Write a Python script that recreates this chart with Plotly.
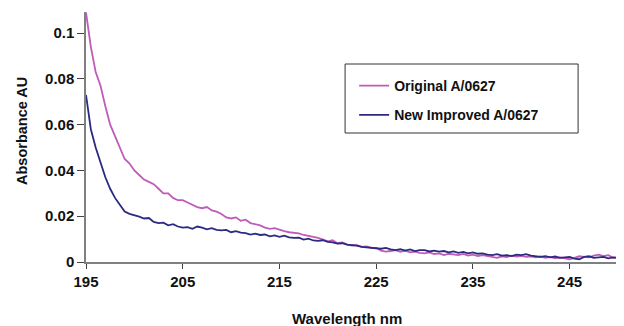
import plotly.graph_objects as go

wavelength = [round(195 + 0.5 * i, 1) for i in range(111)]

original = [
    0.109, 0.094, 0.083, 0.077, 0.068, 0.060, 0.055, 0.050, 0.045, 0.043,
    0.040, 0.038, 0.036, 0.035, 0.034, 0.032, 0.030, 0.030, 0.028, 0.027,
    0.027, 0.026, 0.025, 0.024, 0.0235, 0.024, 0.0225, 0.022, 0.021, 0.0195,
    0.019, 0.0195, 0.018, 0.0185, 0.017, 0.0165, 0.016, 0.015, 0.0145, 0.0148,
    0.014, 0.0135, 0.013, 0.0128, 0.0125, 0.0118, 0.0115, 0.011, 0.0105, 0.0098,
    0.009, 0.0095, 0.0082, 0.0085, 0.0076, 0.0072, 0.0074, 0.0066, 0.0068, 0.0062,
    0.0062, 0.005, 0.0045, 0.0048, 0.0052, 0.0045, 0.005, 0.0042, 0.0045, 0.004,
    0.0038, 0.0042, 0.0035, 0.0038, 0.003, 0.0036, 0.0032, 0.003, 0.0035, 0.0028,
    0.0032, 0.0026, 0.003, 0.0025, 0.002, 0.0018, 0.0025, 0.0022, 0.0028, 0.0024,
    0.0027, 0.0022, 0.0025, 0.002, 0.0024, 0.0018, 0.0022, 0.0016, 0.002, 0.0015,
    0.0012, 0.0018, 0.0025, 0.0022, 0.002, 0.0028, 0.0032, 0.0026, 0.003, 0.0018,
    0.002,
]

new_improved = [
    0.073, 0.058, 0.050, 0.043, 0.037, 0.032, 0.028, 0.025, 0.022, 0.021,
    0.0205, 0.0198, 0.019, 0.0192, 0.0175, 0.017, 0.0172, 0.016, 0.0165, 0.0155,
    0.015, 0.0152, 0.0145, 0.0155, 0.015, 0.0143, 0.0148, 0.014, 0.0138, 0.014,
    0.013, 0.0135, 0.0128, 0.0126, 0.012, 0.0124, 0.0118, 0.012, 0.0112, 0.0116,
    0.011, 0.0115, 0.0108, 0.0105, 0.0106, 0.0098, 0.0102, 0.0094, 0.0092, 0.0095,
    0.0088, 0.0086, 0.008, 0.0082, 0.0076, 0.0074, 0.0072, 0.0066, 0.0064, 0.006,
    0.006, 0.0058, 0.0062, 0.0055, 0.0052, 0.0056, 0.005, 0.0055, 0.0048, 0.0052,
    0.0052, 0.0046, 0.005, 0.0045, 0.0048, 0.0042, 0.0046, 0.004, 0.0044, 0.0038,
    0.0042, 0.0036, 0.0038, 0.0032, 0.003, 0.0034, 0.0028, 0.003, 0.0026, 0.0032,
    0.003, 0.0034, 0.0028, 0.0025, 0.0022, 0.0026, 0.002, 0.0024, 0.0018, 0.002,
    0.0022, 0.0015, 0.0012, 0.0022, 0.0025, 0.0018, 0.002, 0.0022, 0.0016, 0.002,
    0.0018,
]

x_ticks = [195, 205, 215, 225, 235, 245]
y_ticks = [0, 0.02, 0.04, 0.06, 0.08, 0.1]
y_tick_labels = ["0", "0.02", "0.04", "0.06", "0.08", "0.1"]

FONT = "Liberation Sans, Arial, sans-serif"
TXT = "#111111"

fig = go.Figure()
fig.add_trace(go.Scatter(
    x=wavelength, y=original, mode="lines", name="Original A/0627",
    line=dict(color="#C05BB8", width=1.8), legendgroup="a",
))
fig.add_trace(go.Scatter(
    x=wavelength, y=new_improved, mode="lines", name="New Improved A/0627",
    line=dict(color="#2B2A80", width=1.8), legendgroup="b",
))

fig.update_layout(
    width=624, height=326,
    margin=dict(l=78, r=14, t=4, b=72),
    paper_bgcolor="white", plot_bgcolor="white",
    font=dict(family=FONT, size=14, color=TXT, weight="bold"),
    showlegend=True,
    legend=dict(
        x=0.504, y=0.768, xanchor="left", yanchor="top",
        borderwidth=0, bgcolor="rgba(0,0,0,0)",
        font=dict(family=FONT, size=14, color=TXT, weight="bold"),
        traceorder="grouped", tracegroupgap=8, itemwidth=30,
    ),
    shapes=[
        dict(type="rect", xref="paper", yref="paper",
             x0=0.487, x1=0.925, y0=0.516, y1=0.792,
             line=dict(color="#333333", width=1), fillcolor="white", layer="below"),
    ],
    xaxis=dict(
        range=[195, 250], tickvals=x_ticks,
        showgrid=False, zeroline=False, automargin=False,
        showline=True, linecolor="#808080", linewidth=1.5,
        ticks="outside", ticklen=5, tickcolor="#444444",
        tickfont=dict(family=FONT, size=15, color=TXT, weight="bold"),
    ),
    yaxis=dict(
        range=[0, 0.1092], tickvals=y_ticks, ticktext=y_tick_labels,
        showgrid=False, zeroline=False, automargin=False,
        showline=True, linecolor="#808080", linewidth=1.5,
        ticks="outside", ticklen=7, tickcolor="#444444",
        tickfont=dict(family=FONT, size=15, color=TXT, weight="bold"),
    ),
    annotations=[
        dict(text="Wavelength nm", xref="paper", yref="paper",
             x=0.4906, y=-0.224, xanchor="center", yanchor="middle",
             showarrow=False, font=dict(family=FONT, size=15, color=TXT, weight="bold")),
        dict(text="Absorbance AU", xref="paper", yref="paper",
             x=-0.1203, y=0.524, xanchor="center", yanchor="middle", textangle=-90,
             showarrow=False, font=dict(family=FONT, size=14.5, color=TXT, weight="bold")),
    ],
)

fig.write_html("out.html")
